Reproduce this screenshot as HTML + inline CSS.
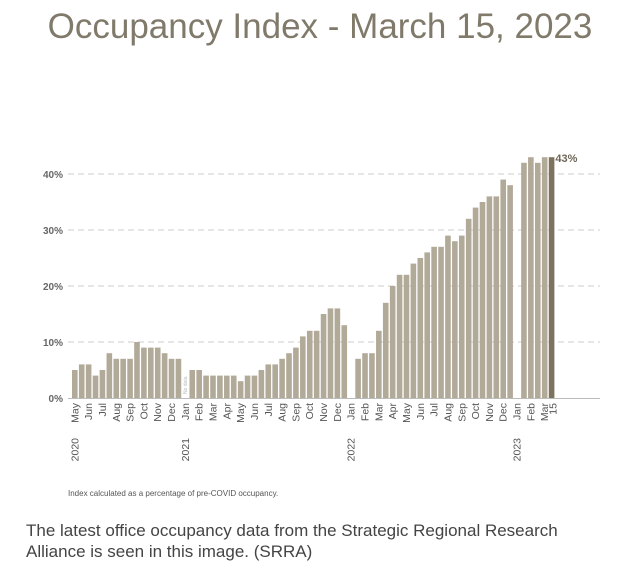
<!DOCTYPE html>
<html><head><meta charset="utf-8">
<style>
body{margin:0;background:#fff;width:640px;height:570px;overflow:hidden;font-family:"Liberation Sans",sans-serif;}
#title{position:absolute;left:0;top:7px;width:640px;text-align:center;font-size:35px;color:#807a6b;white-space:nowrap;}
#note{position:absolute;left:68px;top:489px;font-size:8px;color:#555;}
#cap{position:absolute;left:26px;top:520px;font-size:17px;line-height:21px;color:#444;width:540px;}
svg{position:absolute;left:0;top:0;}
</style></head>
<body>
<div id="title">Occupancy Index - March 15, 2023</div>
<svg id="chart" width="640" height="570"></svg>
<div id="note">Index calculated as a percentage of pre-COVID occupancy.</div>
<div id="cap">The latest office occupancy data from the Strategic Regional Research Alliance is seen in this image. (SRRA)</div>
<script>
// null = no data / gap
const values = [5,6,6,4,5,8,7,7,7,10,9,9,9,8,7,7,null,
5,5,4,4,4,4,4,3,4,4,5,6,6,7,8,9,11,12,12,15,16,16,13,null,
7,8,8,12,17,20,22,22,24,25,26,27,27,29,28,29,32,34,35,36,36,39,38,null,
42,43,42,43,43];
const monthLabels = ["May","Jun","Jul","Aug","Sep","Oct","Nov","Dec","Jan","Feb","Mar","Apr","May","Jun","Jul","Aug","Sep","Oct","Nov","Dec","Jan","Feb","Mar","Apr","May","Jun","Jul","Aug","Sep","Oct","Nov","Dec","Jan","Feb","Mar","15"];
const monthSlots = [0,2,4,6,8,10,12,14,16,18,20,22,24,26,28,30,32,34,36,38,40,42,44,46,48,50,52,54,56,58,60,62,64,66,68,69.2];
const yearLabels = ["2020","2021","2022","2023"];
const yearSlots = [0,16,40,64];
const yTicks = [0,10,20,30,40];
const yTickLabels = ["0%","10%","20%","30%","40%"];
const lastLabel = "43%";

const svg = document.getElementById('chart');
const NS = 'http://www.w3.org/2000/svg';
const x0 = 72, step = 6.91, bw = 5.6, y0 = 398, pxPer = 5.6;
const xs = i => x0 + i*step;
const ys = v => y0 - v*pxPer;
function mk(tag, attrs){const e=document.createElementNS(NS,tag);for(const k in attrs)e.setAttribute(k,attrs[k]);svg.appendChild(e);return e;}

yTicks.forEach((t,i)=>{
  if(t>0){const g=mk('line',{x1:68,x2:600,y1:ys(t),y2:ys(t),stroke:'#d6d6d6','stroke-width':1.3,'stroke-dasharray':'6,4'});
  
  }
  const l=mk('text',{x:63,y:ys(t)+4,'text-anchor':'end','font-size':10,'font-weight':'bold',fill:'#666'});
  l.textContent=yTickLabels[i];
  
  
});
const ax=mk('line',{x1:68,x2:600,y1:y0+0.5,y2:y0+0.5,stroke:'#bbb','stroke-width':1});



values.forEach((v,i)=>{
  if(v===null) return;
  const last = i===values.length-1;
  const r=mk('rect',{x:xs(i),y:ys(v),width:bw,height:v*pxPer,fill:last?'#7d725e':'#b2aa99'});
  
  
});
const nd=mk('text',{transform:`translate(${xs(16)+4.5},${y0-4}) rotate(-90)`,'font-size':5,fill:'#bbb'});
nd.textContent='No data';



const li=values.length-1;
const ll=mk('text',{x:xs(li)+bw+1,y:ys(values[li])+5,'font-size':11,'font-weight':'bold',fill:'#6e6658'});
ll.textContent=lastLabel;



monthLabels.forEach((m,i)=>{
  const cx=xs(monthSlots[i])+bw/2+3.5;
  const t=mk('text',{transform:`translate(${cx},403) rotate(-90)`,'text-anchor':'end','font-size':10.5,fill:'#555'});
  t.textContent=m;
  
  
});
yearLabels.forEach((y,i)=>{
  const cx=xs(yearSlots[i])+bw/2+3.5;
  const t=mk('text',{transform:`translate(${cx},438) rotate(-90)`,'text-anchor':'end','font-size':10.5,fill:'#555'});
  t.textContent=y;
  
  
});
</script>
</body></html>
